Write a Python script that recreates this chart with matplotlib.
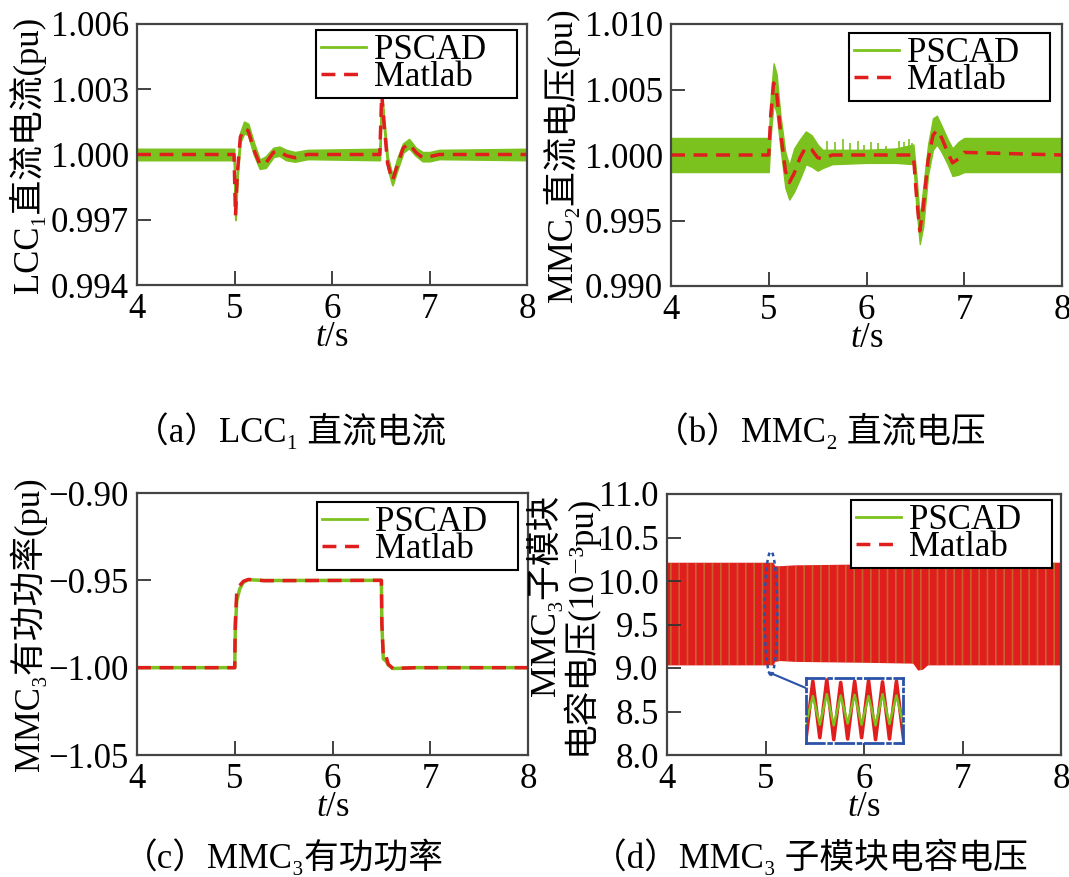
import matplotlib
matplotlib.use("Agg")
import matplotlib.pyplot as plt
from matplotlib.lines import Line2D
from matplotlib.patches import Ellipse
from matplotlib.ticker import FuncFormatter

plt.rcParams['font.family'] = ['Liberation Serif', 'DejaVu Serif', 'Noto Sans CJK SC']
plt.rcParams['mathtext.fontset'] = 'custom'
plt.rcParams['mathtext.rm'] = 'Liberation Serif'
plt.rcParams['mathtext.it'] = 'Liberation Serif:italic'
plt.rcParams['font.size'] = 25
plt.rcParams['hatch.linewidth'] = 1.2

GREEN = '#7cc21e'
RED = '#e01e1e'
BLUE = '#2a52a8'
FS = 25

# ---- (a) LCC1 dc current ----
t_a = [4.0, 4.995, 5.01, 5.03, 5.06, 5.10, 5.14, 5.20, 5.26, 5.32, 5.40, 5.46, 5.53, 5.62, 5.75,
       6.49, 6.51, 6.53, 6.57, 6.62, 6.67, 6.73, 6.79, 6.86, 6.93, 7.0, 7.1, 8.0]
matlab_a = [1.0, 1.0, 0.9972, 0.9992, 1.0008, 1.0012, 1.0011, 1.0002, 0.99955, 0.9996, 1.0001, 1.00015,
            0.99995, 0.99985, 1.0, 1.0, 1.0028, 1.0016, 0.9996, 0.9988, 0.9995, 1.0003, 1.0005, 1.0001,
            0.99985, 0.9999, 1.0, 1.0]
pscad_a_hi = [1.00025, 1.00025, 0.9975, 0.9995, 1.0010, 1.0015, 1.0014, 1.0005, 0.99975, 0.9999, 1.0003,
              1.00035, 1.0002, 1.0001, 1.0002, 1.00025, 1.0029, 1.0018, 0.9999, 0.9990, 0.9998, 1.0005,
              1.0007, 1.0003, 1.0001, 1.0001, 1.0002, 1.00025]
pscad_a_lo = [0.99975, 0.99975, 0.9970, 0.9990, 1.0006, 1.0010, 1.0009, 1.0000, 0.99935, 0.9994, 0.9999,
              0.99995, 0.99975, 0.99968, 0.9998, 0.99975, 1.0026, 1.0014, 0.9994, 0.9986, 0.9993, 1.0001,
              1.0003, 0.99995, 0.9997, 0.9997, 0.9998, 0.99975]

# ---- (b) MMC2 dc voltage ----
t_b = [4.0, 5.0, 5.02, 5.05, 5.08, 5.12, 5.17, 5.21, 5.26, 5.32, 5.38, 5.44, 5.50, 5.55, 5.65,
       6.48, 6.51, 6.545, 6.58, 6.63, 6.68, 6.72, 6.77, 6.83, 6.88, 6.94, 7.0, 8.0]
matlab_b = [1.0, 1.0, 1.003, 1.0055, 1.0048, 1.0018, 0.9988, 0.9979, 0.9986, 0.9998, 1.0006, 1.0004,
            0.9998, 0.9997, 1.0, 1.0, 0.9970, 0.9942, 0.9960, 0.9996, 1.0015, 1.0019, 1.0013, 1.0002,
            0.9994, 0.9997, 1.0002, 1.0]
t_bp = [4.0, 5.0, 5.02, 5.05, 5.08, 5.12, 5.17, 5.21, 5.26, 5.32, 5.38, 5.44, 5.50, 5.55, 5.65,
        6.0, 6.3, 6.48, 6.51, 6.545, 6.58, 6.63, 6.68, 6.72, 6.77, 6.83, 6.88, 6.94, 7.0, 8.0]
pscad_b_hi = [1.0013, 1.0013, 1.0045, 1.0070, 1.0062, 1.0030, 1.0002, 0.9992, 1.0005, 1.0012, 1.0018,
              1.0015, 1.0008, 1.0004, 1.0004, 1.0004, 1.0005, 1.0008, 0.9985, 0.9952, 0.9975, 1.0008,
              1.0028, 1.0030, 1.0022, 1.0012, 1.0005, 1.0010, 1.0013, 1.0013]
pscad_b_lo = [0.9987, 0.9987, 1.0015, 1.0040, 1.0032, 1.0005, 0.9975, 0.9966, 0.9972, 0.9982, 0.9993,
              0.9991, 0.9988, 0.9990, 0.9993, 0.9994, 0.9994, 0.9993, 0.9960, 0.9932, 0.9945, 0.9985,
              1.0004, 1.0008, 1.0002, 0.9993, 0.9984, 0.9985, 0.9987, 0.9987]
spike_t = [5.60, 5.68, 5.76, 5.83, 5.91, 5.97, 6.05, 6.12, 6.20, 6.33, 6.38, 6.43, 6.47]
spike_top = [1.0011, 1.0010, 1.0012, 1.0009, 1.0011, 1.0008, 1.0010, 1.0009, 1.0007, 1.0011, 1.0010,
             1.0012, 1.0009]

# ---- (c) MMC3 active power ----
t_c = [4.0, 5.0, 5.005, 5.02, 5.05, 5.09, 5.14, 5.2, 5.3, 6.5, 6.505, 6.52, 6.545, 6.57, 6.62, 6.7, 6.85, 8.0]
matlab_c = [-1.0, -1.0, -0.975, -0.957, -0.953, -0.9505, -0.9495, -0.9497, -0.9502, -0.950, -0.975,
            -0.994, -0.993, -0.998, -1.0006, -1.0003, -1.0, -1.0]
pscad_c = [-1.0, -1.0, -0.980, -0.962, -0.955, -0.951, -0.9496, -0.9498, -0.9501, -0.950, -0.975,
           -0.995, -0.996, -0.9985, -1.0005, -1.0003, -1.0, -1.0]

# ---- (d) MMC3 submodule capacitor voltage (envelope) ----
t_d = [4.0, 5.0, 5.08, 5.1, 5.15, 5.3, 6.0, 6.5, 6.55, 6.6, 6.65, 6.7, 8.0]
top_d = [10.21, 10.21, 10.21, 10.17, 10.17, 10.18, 10.19, 10.18, 10.15, 10.17, 10.22, 10.22, 10.21]
bot_d = [9.03, 9.03, 9.03, 9.07, 9.08, 9.07, 9.06, 9.05, 8.97, 8.98, 9.03, 9.03, 9.03]
# zoomed detail inside the inset (sample index, normalised value)
inset_n = list(range(15))
inset_red = [0.05, 0.95, 0.08, 0.97, 0.05, 0.93, 0.06, 0.95, 0.08, 0.96, 0.05, 0.94, 0.06, 0.95, 0.08]
inset_green = [0.30, 0.72, 0.28, 0.75, 0.27, 0.73, 0.30, 0.74, 0.28, 0.72, 0.27, 0.75, 0.29, 0.73, 0.28]

fig = plt.figure(figsize=(10.69, 8.77), dpi=100)
W, H = 1069, 877


def add_ax(l, t, r, b):
    return fig.add_axes([l / W, 1 - b / H, (r - l) / W, (b - t) / H])


def style(ax, ylim, yticks, fmt):
    ax.set_xlim(4, 8)
    ax.set_ylim(*ylim)
    ax.set_xticks([4, 5, 6, 7, 8])
    ax.set_yticks(yticks)
    ax.yaxis.set_major_formatter(FuncFormatter(lambda v, _: (fmt % v).replace('-', '\u2212')))
    ax.tick_params(direction='in', length=10, width=1.3, top=False, right=False, labelsize=FS,
                   color='#333333')
    ax.tick_params(axis='x', pad=6)
    ax.tick_params(axis='y', pad=6)
    for s in ax.spines.values():
        s.set_color('#444444')
        s.set_linewidth(1.6)
    ax.set_xlabel('$t$/s', labelpad=-4, fontsize=FS)


def legend(ax, anchor):
    h = [Line2D([], [], color=GREEN, lw=2), Line2D([], [], color=RED, lw=2.5, ls=(0, (4, 2.5)))]
    lg = ax.legend(h, ['PSCAD   ', 'Matlab'], loc='upper right', bbox_to_anchor=anchor, fontsize=FS,
                   frameon=True, fancybox=False, framealpha=1, edgecolor='black', borderpad=0.12,
                   labelspacing=-0.17, handlelength=1.3, handletextpad=0.25, borderaxespad=0)
    lg.get_frame().set_linewidth(1.5)


ax1 = add_ax(137, 24, 527, 285)
ax1.fill_between(t_a, pscad_a_lo, pscad_a_hi, color=GREEN, lw=1.5, edgecolor=GREEN)
ax1.plot(t_a, matlab_a, color=RED, lw=2.5, ls=(0, (4, 2.5)))
style(ax1, (0.994, 1.006), [0.994, 0.997, 1.000, 1.003, 1.006], '%.3f')
ax1.set_ylabel('LCC₁直流电流(pu)', fontsize=FS, labelpad=3)
legend(ax1, (1 - 10 / 390, 1 - 6 / 261))

ax2 = add_ax(671, 24, 1062, 286)
ax2.fill_between(t_bp, pscad_b_lo, pscad_b_hi, color=GREEN, lw=1, edgecolor=GREEN)
ax2.vlines(spike_t, 0.9995, spike_top, color=GREEN, lw=1.2)
ax2.plot(t_b, matlab_b, color=RED, lw=2.5, ls=(0, (4, 2.5)))
style(ax2, (0.990, 1.010), [0.990, 0.995, 1.000, 1.005, 1.010], '%.3f')
ax2.set_ylabel('MMC₂直流电压(pu)', fontsize=FS, labelpad=3)
legend(ax2, (1 - 12 / 391, 1 - 9 / 262))

ax3 = add_ax(137, 493, 528, 755)
ax3.plot(t_c, pscad_c, color=GREEN, lw=2.5)
ax3.plot(t_c, matlab_c, color=RED, lw=2.5, ls=(0, (4, 2.5)))
style(ax3, (-1.05, -0.90), [-1.05, -1.00, -0.95, -0.90], '%.2f')
ax3.set_ylabel('MMC₃有功功率(pu)', fontsize=FS, labelpad=1)
legend(ax3, (1 - 10 / 391, 1 - 9 / 262))

ax4 = add_ax(667, 494, 1061, 755)
ax4.fill_between(t_d, bot_d, top_d, facecolor=RED, edgecolor=(0.62, 0.80, 0.25, 0.4), hatch='||', lw=0)
style(ax4, (8.0, 11.0), [8.0, 8.5, 9.0, 9.5, 10.0, 10.5, 11.0], '%.1f')
ax4.set_ylabel('MMC₃子模块\n电容电压(10⁻³pu)', fontsize=FS, labelpad=0, linespacing=0.9,
               multialignment='right')
legend(ax4, (1 - 9 / 394, 1 - 6 / 261))
ax4.add_patch(Ellipse((5.055, 9.63), 0.13, 1.42, fill=False, edgecolor=BLUE, lw=1.8, ls=(0, (1.5, 1.5))))
ax4.plot([5.035, 5.41], [8.95, 8.77], color=BLUE, lw=1.5)

ins = ax4.inset_axes([5.41, 8.14, 0.99, 0.745], transform=ax4.transData)
ins.plot(inset_n, inset_red, color=RED, lw=2.6)
ins.plot(inset_n, inset_green, color=GREEN, lw=1.8)
ins.set_xlim(0, 14)
ins.set_ylim(0, 1)
ins.set_xticks([])
ins.set_yticks([])
for s in ins.spines.values():
    s.set_color(BLUE)
    s.set_linewidth(2)
    s.set_linestyle('-.')

fig.text(290 / W, 1 - 432 / H, '（a）LCC₁ 直流电流', ha='center', va='center', fontsize=FS)
fig.text(820 / W, 1 - 432 / H, '（b）MMC₂ 直流电压', ha='center', va='center', fontsize=FS)
fig.text(283 / W, 1 - 858 / H, '（c）MMC₃有功功率', ha='center', va='center', fontsize=FS)
fig.text(810 / W, 1 - 858 / H, '（d）MMC₃ 子模块电容电压', ha='center', va='center', fontsize=FS)

fig.savefig('out.png', dpi=100)
